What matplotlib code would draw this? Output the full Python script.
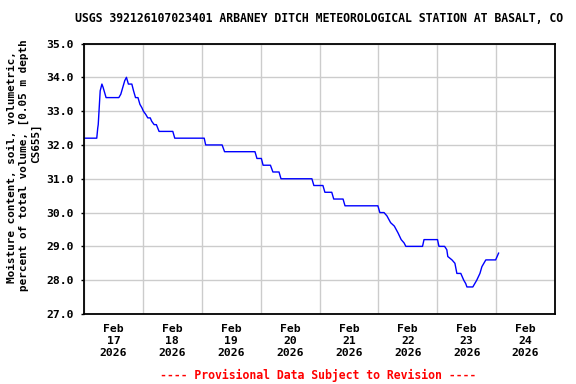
import matplotlib
matplotlib.use("Agg")
import matplotlib.pyplot as plt
import matplotlib.dates as mdates
import numpy as np
import pandas as pd

# Data: hours after 2026-02-17 00:00 and soil moisture (%)
hours = [0, 5.2, 5.6, 5.8, 6.2, 6.6, 7.3, 7.8, 8.6, 9.0, 14.2, 15.0, 15.8, 16.6, 17.3,
         17.7, 18.1, 19.5, 20.2, 21.0, 22.0, 22.8, 23.6, 24.2, 25.2, 26.0, 27.0, 27.6,
         28.6, 29.5, 30.6, 36.2, 37.0, 49.0, 49.6, 56.3, 57.3, 69.7, 70.5, 72.3, 73.0,
         76.0, 77.0, 79.5, 80.3, 92.9, 93.7, 97.4, 98.2, 101.0, 101.8, 105.6, 106.4,
         119.8, 120.6, 122.3, 123.5, 125.0, 126.5, 128.0, 129.3, 130.5, 131.2, 138.0,
         138.6, 144.1, 144.7, 147.0, 147.9, 148.3, 150.0, 151.2, 152.0, 153.6, 154.8,
         155.6, 156.1, 158.5, 159.3, 160.1, 161.4, 162.2, 163.0, 163.8, 167.8, 169.0]
values = [32.2, 32.2, 32.5, 32.6, 33.1, 33.6, 33.8, 33.7, 33.5, 33.4, 33.4, 33.5, 33.7, 33.9, 34.0,
          33.9, 33.8, 33.8, 33.6, 33.4, 33.4, 33.2, 33.1, 33.0, 32.9, 32.8, 32.8, 32.7,
          32.6, 32.6, 32.4, 32.4, 32.2, 32.2, 32.0, 32.0, 31.8, 31.8, 31.6, 31.6, 31.4,
          31.4, 31.2, 31.2, 31.0, 31.0, 30.8, 30.8, 30.6, 30.6, 30.4, 30.4, 30.2,
          30.2, 30.0, 30.0, 29.9, 29.7, 29.6, 29.4, 29.2, 29.1, 29.0, 29.0,
          29.2, 29.2, 29.0, 29.0, 28.9, 28.7, 28.6, 28.5, 28.2, 28.2, 28.0,
          27.9, 27.8, 27.8, 27.9, 28.0, 28.2, 28.4, 28.5, 28.6, 28.6, 28.8]

title = "USGS 392126107023401 ARBANEY DITCH METEOROLOGICAL STATION AT BASALT, CO"
ylabel_lines = ["Moisture content, soil, volumetric,",
                "percent of total volume, [0.05 m depth",
                "CS655]"]
footer = "---- Provisional Data Subject to Revision ----"
yticks = [27.0, 28.0, 29.0, 30.0, 31.0, 32.0, 33.0, 34.0, 35.0]

start = pd.Timestamp("2026-02-17 00:00")
times = [start + pd.Timedelta(hours=h) for h in hours]

FONT = "DejaVu Sans Mono"
plt.rcParams["font.family"] = FONT
plt.rcParams["font.weight"] = "bold"

fig = plt.figure(figsize=(5.76, 3.84), dpi=100)
ax = fig.add_axes([84/576, 1-314/384, (555-84)/576, (314-43.5)/384])

ax.plot(times, values, color="#0000ff", linewidth=1.0)

ax.set_ylim(27, 35)
ax.set_yticks(yticks)
ax.set_yticklabels([f"{v:.1f}" for v in yticks], fontsize=8.2, fontweight="bold")
ax.set_xlim(start, start + pd.Timedelta(days=8))

ax.xaxis.set_major_locator(mdates.DayLocator())
ax.xaxis.set_major_formatter(plt.NullFormatter())
ax.xaxis.set_minor_locator(mdates.HourLocator(byhour=[12]))
ax.xaxis.set_minor_formatter(mdates.DateFormatter("%b\n%d\n%Y"))
ax.tick_params(axis="x", which="major", length=0)
ax.tick_params(axis="x", which="minor", length=0, pad=7, labelsize=8.2)
for lbl in ax.xaxis.get_minorticklabels():
    lbl.set_fontweight("bold")
    lbl.set_linespacing(1.25)
ax.tick_params(axis="y", length=2.2, width=1.0, pad=5, color="black")

ax.grid(True, which="major", color="#cccccc", linewidth=1.0)
ax.set_axisbelow(True)
for s in ax.spines.values():
    s.set_color("black")
    s.set_linewidth(1.3)

fig.text(319.5/576, 1-19/384, title, ha="center", va="center", fontsize=8.3, fontweight="bold")
ylab_pos = [(12, 167), (24, 165), (36, 143)]
for line, (px, py) in zip(ylabel_lines, ylab_pos):
    fig.text(px/576, 1-py/384, line, rotation=90, ha="center", va="center",
             fontsize=7.9, fontweight="bold")
fig.text(318/576, 1-375/384, footer, ha="center", va="center", fontsize=8.3,
         fontweight="bold", color="#ff0000")

fig.savefig("out.png", dpi=100)
